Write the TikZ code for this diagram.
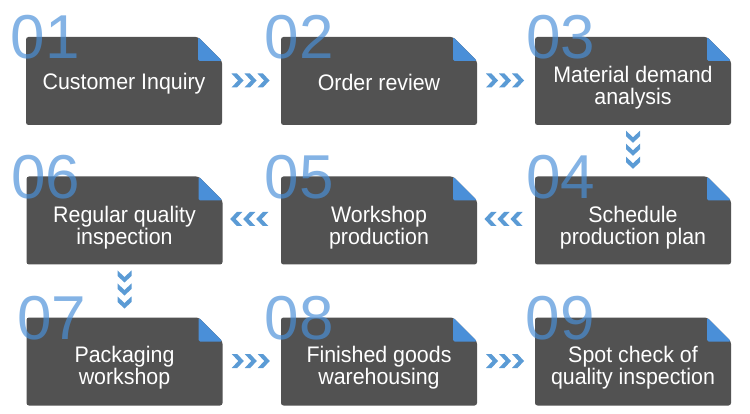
\documentclass[tikz,border=0pt]{standalone}
\usepackage{fontspec}
\setmainfont{Liberation Sans}
\newfontfamily\boxfont[FakeStretch=0.95]{Liberation Sans}
\usetikzlibrary{calc}
\definecolor{boxgray}{HTML}{525252}
\definecolor{foldblue}{HTML}{4A8FD8}
\definecolor{chevblue}{HTML}{5B9BD5}
\definecolor{numblue}{HTML}{4A90D9}
\tikzset{
  card/.style={minimum width=196pt, minimum height=88pt, inner sep=0pt, outer sep=0pt},
  cardtext/.style={text=white, align=center, inner sep=0pt,
    font=\boxfont\fontsize{22.5}{21.5}\selectfont},
  numtext/.style={text=numblue, opacity=0.68, inner sep=0pt, anchor=base west,
    font=\fontsize{62}{62}\selectfont},
  chev/.style={fill=chevblue},
}
\newcommand\cardshape[1]{%
  \fill[boxgray, rounded corners=2.5pt] (#1.south west) -- (#1.north west)
    -- ($(#1.north east)+(-24,0)$) -- ($(#1.north east)+(0,24)$) -- (#1.south east) -- cycle;
  \fill[foldblue, rounded corners=1.5pt] ($(#1.north east)+(-24,0)$)
    -- ($(#1.north east)+(-24,24)$) -- ($(#1.north east)+(0,24)$) -- cycle;
}
\newcommand\chevrons[2]{%
  \begin{scope}[shift={(#1)}, rotate=#2]
    \foreach \d in {-13,0,13}
      \fill[chev] (\d-5.5,-7) -- (\d,-7) -- (\d+6.5,0) -- (\d,7) -- (\d-5.5,7) -- (\d+1,0) -- cycle;
  \end{scope}}
\begin{document}
\begin{tikzpicture}[x=1pt,y=-1pt]
\fill[white] (0,0) rectangle (750,414);
\useasboundingbox (0,0) rectangle (750,414);
% cards
\node[card] (n1) at (124,81) {};
\node[card] (n2) at (379,81) {};
\node[card] (n3) at (633,81) {};
\node[card] (n4) at (633,220.5) {};
\node[card] (n5) at (379,220.5) {};
\node[card] (n6) at (124.5,220.5) {};
\node[card] (n7) at (124.5,361.5) {};
\node[card] (n8) at (379,361.5) {};
\node[card] (n9) at (633,361.5) {};
\foreach \n in {n1,n2,n3,n4,n5,n6,n7,n8,n9} {\cardshape{\n}}
% numbers
\node[numtext] (m1) at ($(n1.north west)+(-15.6,22)$) {01};
\node[numtext] (m2) at ($(n2.north west)+(-16.6,22)$) {02};
\node[numtext] (m3) at ($(n3.north west)+(-9,22)$) {03};
\node[numtext] (m4) at ($(n4.north west)+(-9,22)$) {04};
\node[numtext] (m5) at ($(n5.north west)+(-16.6,22)$) {05};
\node[numtext] (m6) at ($(n6.north west)+(-15.6,22)$) {06};
\node[numtext] (m7) at ($(n7.north west)+(-9.6,22)$) {07};
\node[numtext] (m8) at ($(n8.north west)+(-16.6,22)$) {08};
\node[numtext] (m9) at ($(n9.north west)+(-9.6,22)$) {09};
% texts
\node[cardtext] (t1) at ($(n1.center)+(0,3)$) {Customer Inquiry};
\node[cardtext] (t2) at ($(n2.center)+(0,1)$) {Order review};
\node[cardtext] (t3) at ($(n3.center)+(0,6.5)$) {Material demand\\analysis};
\node[cardtext] (t4) at ($(n4.center)+(0,7)$) {Schedule\\production plan};
\node[cardtext] (t5) at ($(n5.center)+(0,7)$) {Workshop\\production};
\node[cardtext] (t6) at ($(n6.center)+(0,7)$) {Regular quality\\inspection};
\node[cardtext] (t7) at ($(n7.center)+(0,6)$) {Packaging\\workshop};
\node[cardtext] (t8) at ($(n8.center)+(0,6)$) {Finished goods\\warehousing};
\node[cardtext] (t9) at ($(n9.center)+(0,6)$) {Spot check of\\quality inspection};
% chevron connectors
\chevrons{$(n1.east)!0.5!(n2.west)+(-1.5,-0.5)$}{0}
\chevrons{$(n2.east)!0.5!(n3.west)+(-1.5,-0.5)$}{0}
\chevrons{$(n3.south)!0.5!(n4.north)+(0,-1.5)$}{-90}
\chevrons{$(n4.west)!0.5!(n5.east)+(-2,-1.5)$}{180}
\chevrons{$(n5.west)!0.5!(n6.east)+(-2,-1.5)$}{180}
\chevrons{$(n6.south)!0.5!(n7.north)+(0,-2)$}{-90}
\chevrons{$(n7.east)!0.5!(n8.west)+(-1.5,-0.5)$}{0}
\chevrons{$(n8.east)!0.5!(n9.west)+(-1.5,-0.5)$}{0}
\end{tikzpicture}
\end{document}
